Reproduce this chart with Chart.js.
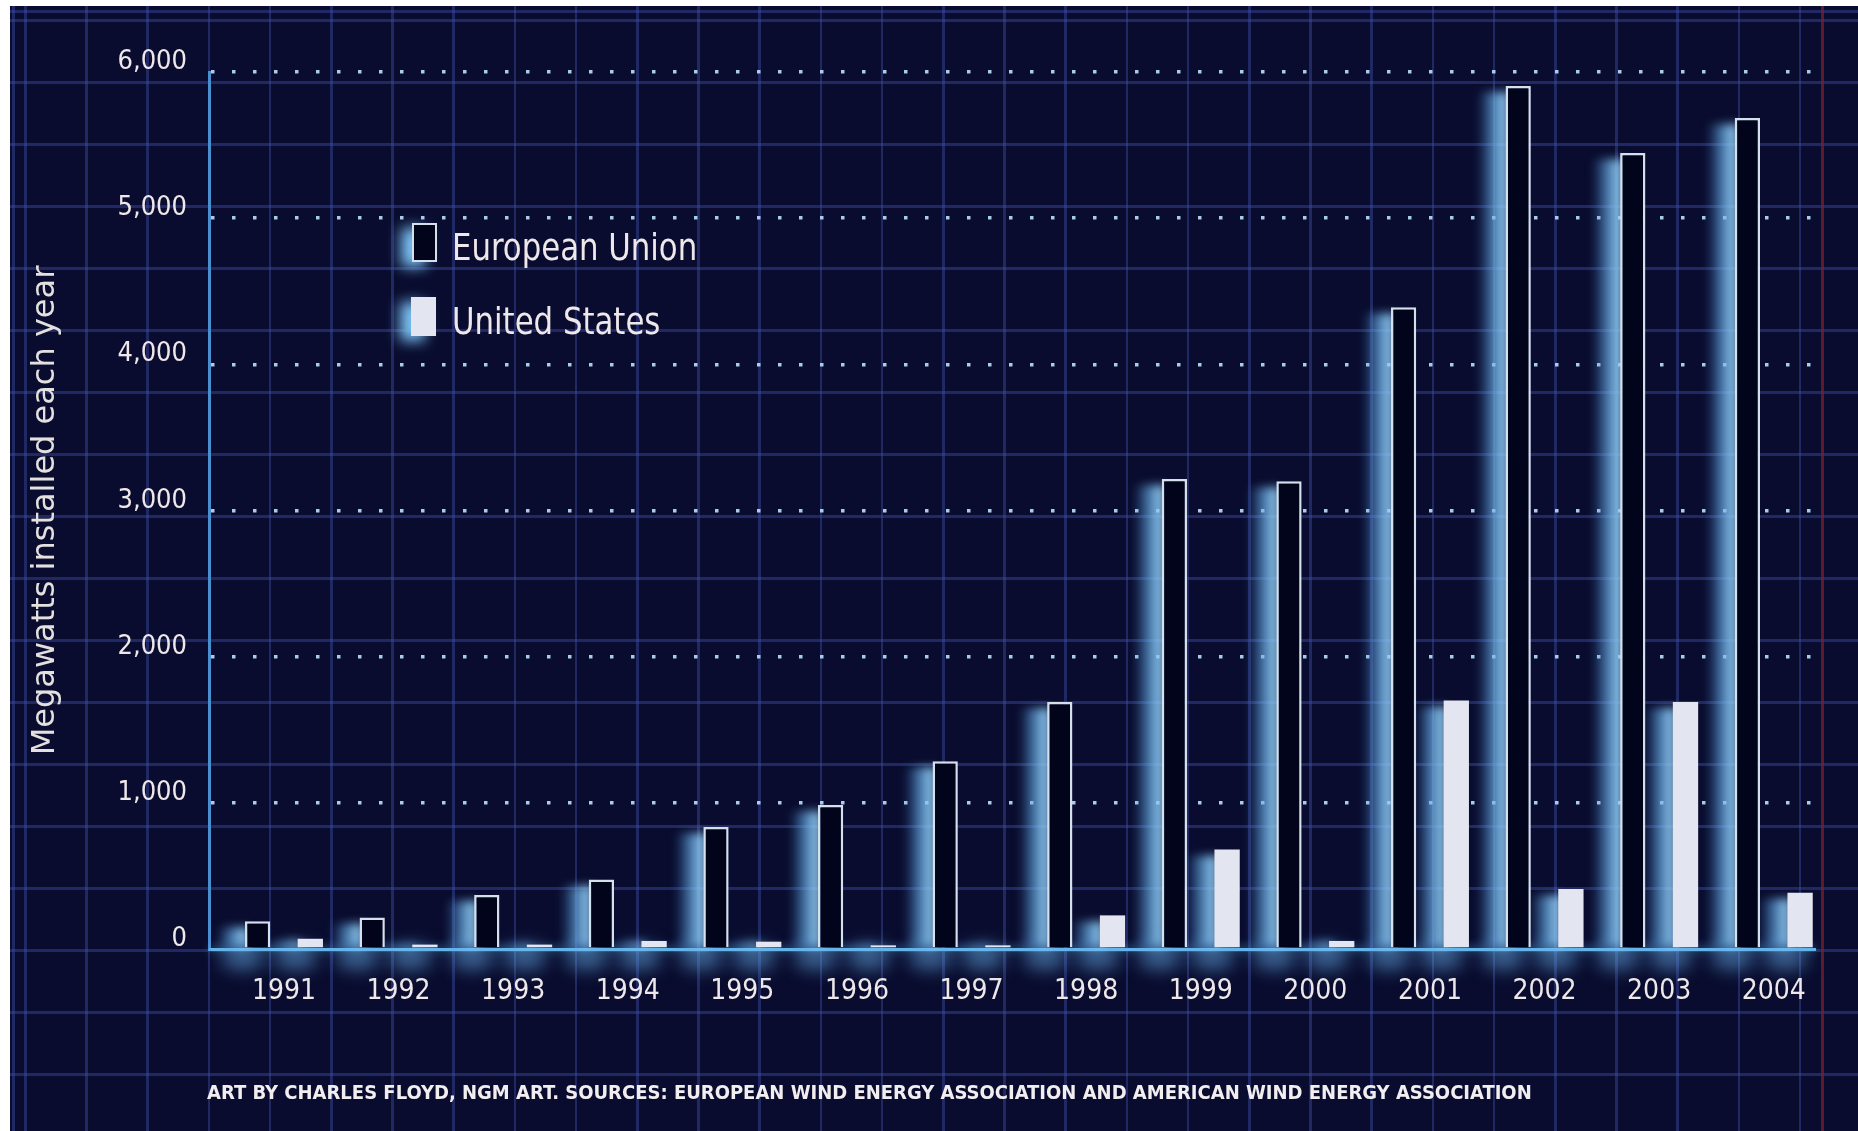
<!DOCTYPE html>
<html lang="en">
<head>
  <meta charset="UTF-8" />
  <title>Wind power installed each year</title>
  <style>
    body {
      margin: 0;
      background: #fff;
    }
    #frame {
      position: relative;
      width: 1858px;
      height: 1131px;
      overflow: hidden;
      background: #fff;
    }
    /* graph-paper backdrop of the scan */
    #paper {
      position: absolute;
      left: 10px;
      top: 6px;
      right: 0;
      bottom: 0;
      background-color: #090c2e;
      background-image:
        repeating-linear-gradient(to right, rgba(64, 80, 172, 0.42) 0 2.5px, transparent 2.5px 61.2px),
        repeating-linear-gradient(to bottom, rgba(64, 80, 172, 0.42) 0 2.5px, transparent 2.5px 62px);
      background-position: 14px 13px;
    }
    #gutter {
      position: absolute;
      left: 1821px;
      top: 6px;
      bottom: 0;
      width: 3px;
      background: rgba(120, 32, 44, 0.75);
    }
    #windChart {
      position: absolute;
      left: 0;
      top: 0;
    }
    .legend-box {
      position: absolute;
      box-sizing: border-box;
      width: 25px;
      height: 39px;
      box-shadow: -11px 5px 14px rgba(125, 195, 245, 1);
    }
    .legend-text {
      position: absolute;
      left: 452px;
      white-space: nowrap;
      font-family: 'Liberation Sans Narrow', 'DejaVu Sans Condensed', 'Arial Narrow', sans-serif;
      font-size: 38px;
      line-height: 38px;
      color: #efe8ea;
      transform: scaleX(0.9);
      transform-origin: left center;
    }
    #credit {
      position: absolute;
      left: 207px;
      top: 1082px;
      white-space: nowrap;
      font-family: 'Liberation Sans Narrow', 'DejaVu Sans Condensed', 'Arial Narrow', sans-serif;
      font-weight: bold;
      font-size: 20px;
      line-height: 20px;
      color: #f2eef0;
    }
  </style>
</head>
<body>
  <div id="frame">
    <div id="paper"></div>
    <div id="gutter"></div>
    <canvas id="windChart" width="1858" height="1131"></canvas>
    <div id="legend"></div>
    <div id="credit">ART BY CHARLES FLOYD, NGM ART. SOURCES: EUROPEAN WIND ENERGY ASSOCIATION AND AMERICAN WIND ENERGY ASSOCIATION</div>
  </div>

  <script src="https://cdn.jsdelivr.net/npm/chart.js"></script>
  <script>
    const years = [1991, 1992, 1993, 1994, 1995, 1996, 1997, 1998, 1999, 2000, 2001, 2002, 2003, 2004];
    const euMW = [190, 215, 370, 475, 835, 985, 1285, 1690, 3215, 3200, 4390, 5905, 5445, 5685];
    const usMW = [70, 30, 30, 55, 50, 25, 25, 230, 680, 55, 1700, 410, 1690, 385];
    const seriesNames = ['European Union', 'United States'];
    const yMax = 6000;
    const yStep = 1000;
    // x range runs a little past the first/last year, as on the page
    const xMin = 1990.346;
    const xMax = 2004.36;

    const narrow = "'Liberation Sans Narrow', 'DejaVu Sans Condensed', 'Arial Narrow', sans-serif";
    const fills = ['#01041a', '#e3e5f1'];
    const edges = ['#d4e0ec', '#e3e5f1'];

    // blue glow to the left of each bar, taken from the bar elements themselves
    const glowPlugin = {
      id: 'glow',
      beforeDatasetsDraw(chart) {
        const ctx = chart.ctx;
        const base = chart.scales.y.getPixelForValue(0);
        ctx.save();
        ctx.shadowColor = 'rgba(110, 185, 240, 1)';
        ctx.shadowBlur = 10;
        ctx.strokeStyle = 'rgba(100, 180, 235, 0.9)';
        ctx.lineWidth = 2;
        ctx.beginPath();
        ctx.moveTo(chart.chartArea.left, base);
        ctx.lineTo(chart.chartArea.right, base);
        ctx.stroke();
        ctx.shadowBlur = 0;
        ctx.shadowColor = 'rgba(0,0,0,0)';
        chart.getSortedVisibleDatasetMetas().forEach(meta => {
          meta.data.forEach(bar => {
            const p = bar.getProps(['x', 'y', 'base', 'width'], true);
            const left = p.x - p.width / 2;
            const h = p.base - p.y;
            const inset = Math.min(6, h / 3);
            // band of light along the left edge
            ctx.filter = 'blur(5px)';
            const g = ctx.createLinearGradient(left - 28, 0, left + 2, 0);
            g.addColorStop(0, 'rgba(80, 150, 220, 0)');
            g.addColorStop(0.5, 'rgba(105, 178, 235, 0.65)');
            g.addColorStop(1, 'rgba(160, 215, 250, 1)');
            ctx.fillStyle = g;
            ctx.fillRect(left - 28, p.y + inset, 31, h - inset);
            // pool of light under the baseline
            ctx.filter = 'blur(9px)';
            ctx.fillStyle = 'rgba(105, 178, 238, 0.55)';
            ctx.beginPath();
            ctx.ellipse(left - 2, p.base + 10, 22, 12, 0, 0, Math.PI * 2);
            ctx.fill();
          });
        });
        ctx.filter = 'none';
        ctx.restore();
      }
    };

    new Chart(document.getElementById('windChart'), {
      type: 'bar',
      data: {
        datasets: [{
          label: seriesNames[0],
          data: years.map((yr, i) => ({ x: yr, y: euMW[i] })),
          backgroundColor: fills[0],
          borderColor: edges[0],
          borderWidth: 2.5,
          borderSkipped: 'bottom',
          clip: false
        }, {
          label: seriesNames[1],
          data: years.map((yr, i) => ({ x: yr, y: usMW[i] })),
          backgroundColor: fills[1],
          borderWidth: 0,
          clip: false
        }]
      },
      options: {
        responsive: false,
        animation: false,
        layout: { padding: { top: 72, right: 43, left: 0, bottom: 0 } },
        datasets: { bar: { categoryPercentage: 0.92, barPercentage: 0.48 } },
        plugins: {
          legend: { display: false },
          tooltip: { enabled: false }
        },
        scales: {
          x: {
            type: 'linear',
            min: xMin,
            max: xMax,
            offset: false,
            grid: { display: false },
            border: { color: '#62b6e8', width: 3 },
            ticks: {
              stepSize: 1,
              includeBounds: false,
              maxTicksLimit: 20,
              autoSkip: false,
              maxRotation: 0,
              padding: 18,
              color: '#efe8ea',
              font: { family: narrow, size: 28 },
              callback: v => String(v)
            },
            afterFit: s => { s.height = 182; }
          },
          y: {
            min: 0,
            max: yMax,
            grid: {
              color: c => c.tick && c.tick.value === 0 ? 'rgba(0,0,0,0)' : '#a9cce8',
              lineWidth: 3.5,
              drawTicks: false
            },
            border: { color: '#4b8ed0', width: 3, dash: [3.5, 17.5] },
            ticks: {
              stepSize: yStep,
              padding: 22,
              labelOffset: -10,
              color: '#efe8ea',
              font: { family: narrow, size: 27 },
              callback: v => v.toLocaleString('en-US')
            },
            title: {
              display: true,
              text: 'Megawatts installed each year',
              color: '#e4e0e0',
              font: { family: "'DejaVu Sans', sans-serif", size: 32 },
              padding: { top: 26, bottom: 0 }
            },
            afterFit: s => { s.width = 209; }
          }
        }
      },
      plugins: [glowPlugin]
    });

    // legend, laid over the plot like in the print
    const legend = document.getElementById('legend');
    const legendTops = [223, 297];
    seriesNames.forEach((name, i) => {
      const box = document.createElement('div');
      box.className = 'legend-box';
      box.style.left = (412 - i) + 'px';
      box.style.top = legendTops[i] + 'px';
      box.style.background = fills[i];
      box.style.border = i === 0 ? '2px solid ' + edges[0] : 'none';
      const text = document.createElement('div');
      text.className = 'legend-text';
      text.style.top = (legendTops[i] + 5) + 'px';
      text.textContent = name;
      legend.appendChild(box);
      legend.appendChild(text);
    });
  </script>
</body>
</html>
